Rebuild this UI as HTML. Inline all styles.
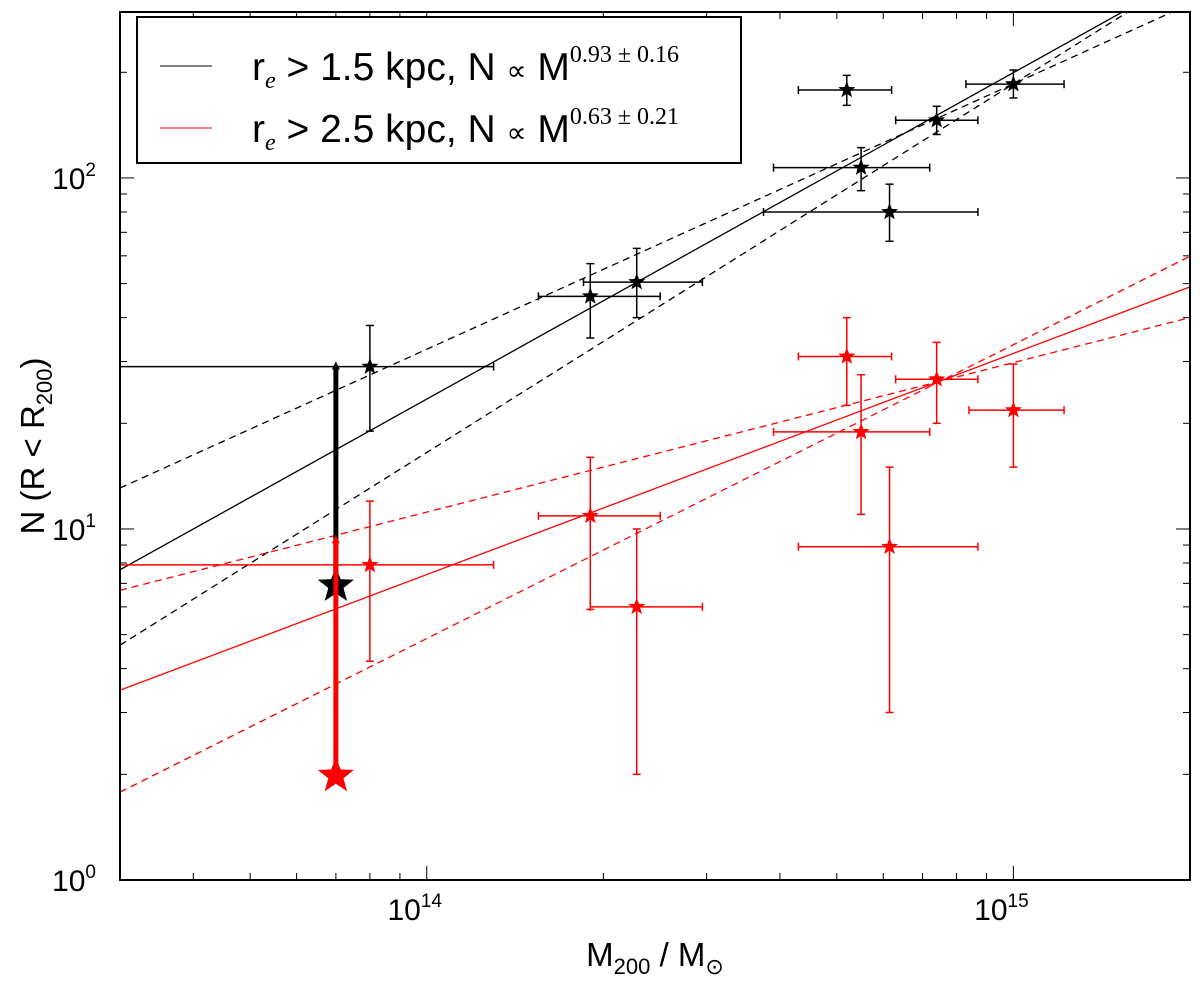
<!DOCTYPE html>
<html><head><meta charset="utf-8"><style>
body{margin:0;background:#fff;}
svg text{font-family:"Liberation Sans",sans-serif;}
</style></head><body>
<svg id="chart" width="1200" height="980" xmlns="http://www.w3.org/2000/svg">
<g id="lines"></g>
<g id="pts"></g>
<g id="axes"></g>
<g>
<rect x="137" y="17" width="604" height="146" fill="#fff" stroke="#000" stroke-width="2"/>
<line x1="160" y1="66" x2="212" y2="66" stroke="#000"/>
<line x1="160" y1="128" x2="212" y2="128" stroke="red"/>
<text x="252" y="80" font-size="39">r<tspan font-size="24" font-family="Liberation Serif" font-style="italic" dy="8">e</tspan><tspan dy="-8"> &gt; 1.5 kpc, N </tspan><tspan font-family="Liberation Serif" font-size="28">∝</tspan> M<tspan font-family="Liberation Serif" font-size="24" dy="-18">0.93 ± 0.16</tspan></text>
<text x="252" y="142" font-size="39">r<tspan font-size="24" font-family="Liberation Serif" font-style="italic" dy="8">e</tspan><tspan dy="-8"> &gt; 2.5 kpc, N </tspan><tspan font-family="Liberation Serif" font-size="28">∝</tspan> M<tspan font-family="Liberation Serif" font-size="24" dy="-18">0.63 ± 0.21</tspan></text>
</g>
<text x="655" y="966" font-size="33" text-anchor="middle">M<tspan font-size="22" dy="8">200</tspan><tspan dy="-8"> / M</tspan><tspan font-size="22" dy="8">⊙</tspan></text>
<text transform="translate(44,446) rotate(-90)" font-size="33" text-anchor="middle">N (R &lt; R<tspan font-size="22" dy="8">200</tspan><tspan dy="-8">)</tspan></text>
</svg>
<script>
const blackM=[8e13,1.9e14,2.28e14,5.2e14,5.5e14,6.15e14,7.4e14,1e15];
const blackN=[29,46,50.5,178,107,80,146,185];
const blackNlo=[19,35,40,161,92,66,133,169];
const blackNhi=[38,57,63,196,122,96,160,203];
const blackMlo=[3e13,1.55e14,1.85e14,4.3e14,3.9e14,3.75e14,6.3e14,8.3e14];
const blackMhi=[1.3e14,2.5e14,2.95e14,6.2e14,7.2e14,8.7e14,8.7e14,1.22e15];
const redM=[8e13,1.9e14,2.28e14,5.2e14,5.5e14,6.15e14,7.4e14,1e15];
const redN=[7.9,10.9,6.0,31,18.9,8.9,26.7,21.8];
const redNlo=[4.2,5.9,2.0,22.5,11,3.0,20,15];
const redNhi=[12,16,10,40,27.5,15,34,29.5];
const redMlo=[3e13,1.55e14,1.9e14,4.3e14,3.9e14,4.3e14,6.3e14,8.4e14];
const redMhi=[1.3e14,2.5e14,2.95e14,6.2e14,7.2e14,8.7e14,8.7e14,1.22e15];
const limitM=[7e13,7e13];
const limitN=[6.9,1.98];
const limitTop=[30,9.6];
const limitColor=['#000','red'];
const fitSlope=[0.93,0.756,1.05,0.63,0.426,0.837];
const fitIcpt=[1.37,1.512,1.218,0.870,1.048,0.688];
const fitColor=['#000','#000','#000','red','red','red'];
const fitDash=['','7,5','7,5','','7,5','7,5'];
const xTickExp=[14,15];
const yTickExp=[0,1,2];

const X0=120,X1=1190,Y0=12,Y1=880;
const lxmin=Math.log10(3e13),lxmax=Math.log10(2e15),lymin=0,lymax=Math.log10(297);
const sx=m=>X0+(Math.log10(m)-lxmin)/(lxmax-lxmin)*(X1-X0);
const sy=n=>Y1-(Math.log10(n)-lymin)/(lymax-lymin)*(Y1-Y0);
const NS='http://www.w3.org/2000/svg';
function mk(p,t,a){const e=document.createElementNS(NS,t);for(const k in a)e.setAttribute(k,a[k]);p.appendChild(e);return e;}
const lines=document.getElementById('lines'),pts=document.getElementById('pts'),axes=document.getElementById('axes');
mk(lines,'clipPath',{id:'clip'}).appendChild(document.createElementNS(NS,'rect'));
const cr=document.querySelector('#clip rect');cr.setAttribute('x',X0);cr.setAttribute('y',Y0);cr.setAttribute('width',X1-X0);cr.setAttribute('height',Y1-Y0);
lines.setAttribute('clip-path','url(#clip)');
for(let i=0;i<fitSlope.length;i++){
 const n=l=>Math.pow(10,fitIcpt[i]+fitSlope[i]*(l-14));
 const l=mk(lines,'line',{x1:sx(3e13),y1:sy(n(lxmin)),x2:sx(2e15),y2:sy(n(lxmax)),stroke:fitColor[i],'stroke-width':1.3,'stroke-dasharray':fitDash[i]});
 
 
}
function star(cx,cy,r,col,name){
 let d='';for(let k=0;k<10;k++){const rr=k%2?r*0.42:r;const a=-Math.PI/2+k*Math.PI/5;d+=(k?'L':'M')+(cx+rr*Math.cos(a)).toFixed(1)+','+(cy+rr*Math.sin(a)).toFixed(1);}
 const p=mk(pts,'path',{d:d+'Z',fill:col});
 
 
}
function series(M,N,Nlo,Nhi,Mlo,Mhi,col,nm){
 for(let i=0;i<M.length;i++){
  const x=sx(M[i]),y=sy(N[i]);
  const g=mk(pts,'g',{stroke:col,'stroke-width':1.5});
  
  
  mk(g,'line',{x1:sx(Mlo[i]),x2:sx(Mhi[i]),y1:y,y2:y});
  mk(g,'line',{x1:x,x2:x,y1:sy(Nlo[i]),y2:sy(Nhi[i])});
  [sx(Mlo[i]),sx(Mhi[i])].forEach(v=>mk(g,'line',{x1:v,x2:v,y1:y-4,y2:y+4}));
  [sy(Nlo[i]),sy(Nhi[i])].forEach(v=>mk(g,'line',{x1:x-4,x2:x+4,y1:v,y2:v}));
  star(x,y,9,col,nm+'-point-'+i);
 }
}
series(blackM,blackN,blackNlo,blackNhi,blackMlo,blackMhi,'#000','black');
series(redM,redN,redNlo,redNhi,redMlo,redMhi,'red','red');
for(let i=0;i<limitM.length;i++){
 const x=sx(limitM[i]),y=sy(limitN[i]),yt=sy(limitTop[i]);
 const l=mk(pts,'line',{x1:x,x2:x,y1:y,y2:yt+6,stroke:limitColor[i],'stroke-width':5});
 
 
 mk(pts,'path',{d:`M${x-4},${yt+8}L${x},${yt}L${x+4},${yt+8}Z`,fill:limitColor[i]});
 star(x,y,19,limitColor[i],'lower-limit-star-'+i);
}
mk(axes,'rect',{x:X0,y:Y0,width:X1-X0,height:Y1-Y0,fill:'none',stroke:'#000','stroke-width':2});
for(let e=13;e<=15;e++)for(let k=1;k<10;k++){
 const m=k*Math.pow(10,e);if(m<3e13||m>2e15)continue;
 const x=sx(m),len=k==1?14:7;
 mk(axes,'line',{x1:x,x2:x,y1:Y1,y2:Y1-len,stroke:'#000'});
 mk(axes,'line',{x1:x,x2:x,y1:Y0,y2:Y0+len,stroke:'#000'});
}
for(let e=0;e<=2;e++)for(let k=1;k<10;k++){
 const n=k*Math.pow(10,e);if(n>297)continue;
 const y=sy(n),len=k==1?14:7;
 mk(axes,'line',{x1:X0,x2:X0+len,y1:y,y2:y,stroke:'#000'});
 mk(axes,'line',{x1:X1,x2:X1-len,y1:y,y2:y,stroke:'#000'});
}
xTickExp.forEach(e=>{
 const t=mk(axes,'text',{x:sx(Math.pow(10,e))-12,y:920,'font-size':30,'text-anchor':'middle'});
 
 
 t.innerHTML='10<tspan font-size="19" dy="-13">'+e+'</tspan>';
});
yTickExp.forEach(e=>{
 const t=mk(axes,'text',{x:96,y:sy(Math.pow(10,e))+11,'font-size':30,'text-anchor':'end'});
 
 
 t.innerHTML='10<tspan font-size="19" dy="-13">'+e+'</tspan>';
});
</script>
</body></html>
